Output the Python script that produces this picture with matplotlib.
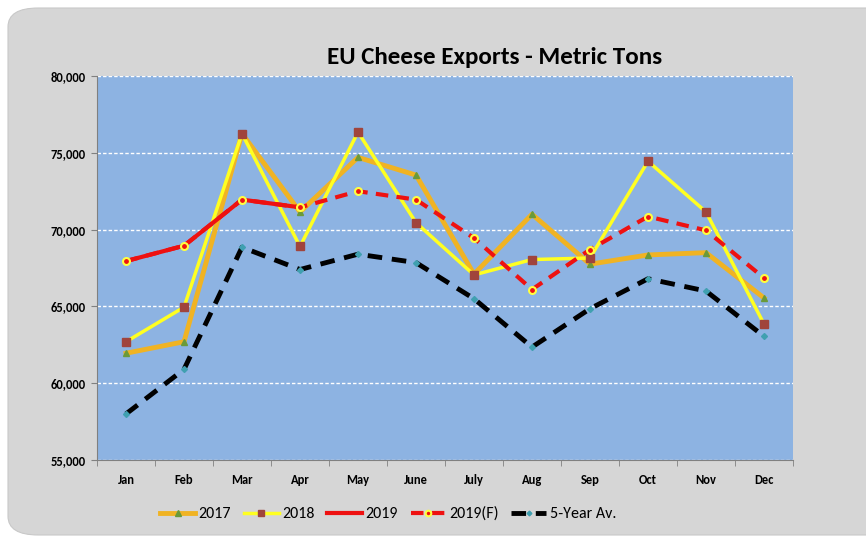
import matplotlib.pyplot as plt
from matplotlib.patches import FancyBboxPatch
from matplotlib.ticker import FuncFormatter
from matplotlib import font_manager

names = {f.name for f in font_manager.fontManager.ttflist}
families = [n for n in ['Carlito', 'Liberation Sans Narrow', 'Lato'] if n in names]
plt.rcParams['font.family'] = families + ['DejaVu Sans']

months = ['Jan', 'Feb', 'Mar', 'Apr', 'May', 'June', 'July', 'Aug', 'Sep', 'Oct', 'Nov', 'Dec']

exp_2017 = [61950, 62700, 76250, 71150, 74700, 73550, 67100, 71000, 67750, 68350, 68500, 65550]
exp_2018 = [62700, 64950, 76250, 68900, 76350, 70450, 67050, 68050, 68150, 74450, 71150, 63850]
exp_2019 = [67950, 68950, 71950, 71450]
exp_2019f = [67950, 68950, 71950, 71450, 72500, 71950, 69450, 66100, 68700, 70850, 69950, 66850]
avg_5yr = [58000, 60900, 68850, 67400, 68400, 67850, 65500, 62350, 64850, 66800, 66000, 63050]

x = list(range(len(months)))

fig = plt.figure(figsize=(8.66, 5.37), dpi=100)
fig.patch.set_facecolor('white')

# grey rounded panel behind the chart, running off the right edge
panel = FancyBboxPatch((8 / 866, 2 / 537), 1.05, 1 - 10 / 537,
                       boxstyle='round,pad=0,rounding_size=0.035',
                       transform=fig.transFigure, facecolor='#d6d6d6',
                       edgecolor='#c8c8c8', linewidth=0.8, zorder=-5)
fig.patches.append(panel)

ax = fig.add_axes([97 / 866, 1 - 460 / 537, (793 - 97) / 866, (460 - 76) / 537])
ax.set_facecolor('#8db3e2')

ax.plot(x, exp_2017, color='#f0b323', lw=3.5, marker='^', ms=5,
        mfc='#6a9a3a', mec='#6a9a3a', label='2017', zorder=3)
ax.plot(x, exp_2018, color='#ffff21', lw=2.5, marker='s', ms=6,
        mfc='#a0443c', mec='#a0443c', label='2018', zorder=4)
ax.plot(x[:len(exp_2019)], exp_2019, color='#ee1111', lw=3, label='2019', zorder=5)
ax.plot(x, exp_2019f, color='#ee1111', lw=3, ls=(0, (3, 2)), marker='o', ms=5,
        mfc='#ee1111', mec='#ffff40', mew=1.5, label='2019(F)', zorder=6)
ax.plot(x, avg_5yr, color='black', lw=3.5, ls=(0, (3, 2)), marker='D', ms=3,
        mfc='#40a0b0', mec='#40a0b0', label='5-Year Av.', zorder=5)

ax.set_xlim(-0.5, 11.5)
ax.set_ylim(55000, 80000)
ax.set_yticks(range(55000, 80001, 5000))
ax.yaxis.set_major_formatter(FuncFormatter(lambda v, p: '{:,.0f}'.format(v)))
ax.set_xticks(x)
ax.set_xticklabels(months)
ax.set_xticks([i - 0.5 for i in range(13)], minor=True)
ax.tick_params(axis='x', which='major', length=0, pad=10)
ax.tick_params(axis='x', which='minor', length=4, color='#808080')
ax.tick_params(axis='y', length=4, color='#808080', pad=4)
for lbl in ax.get_xticklabels() + ax.get_yticklabels():
    lbl.set_fontweight('bold')
    lbl.set_fontsize(9)

ax.grid(axis='y', color='white', ls=(0, (2.5, 1.5)), lw=1)
ax.set_axisbelow(True)
for side in ['top', 'right']:
    ax.spines[side].set_visible(False)
ax.spines['left'].set_color('#808080')
ax.spines['bottom'].set_color('#808080')

fig.text(495 / 866, 1 - 58 / 537, 'EU Cheese Exports - Metric Tons',
         ha='center', va='center', fontsize=18, fontweight='bold')

fig.legend(loc='center', bbox_to_anchor=(388 / 866, 1 - 514 / 537), ncol=5,
           frameon=False, fontsize=11.5, handlelength=2.2, handletextpad=0.2,
           columnspacing=0.8, markerscale=0.8)

fig.savefig('out.png', dpi=100, facecolor=fig.get_facecolor())
